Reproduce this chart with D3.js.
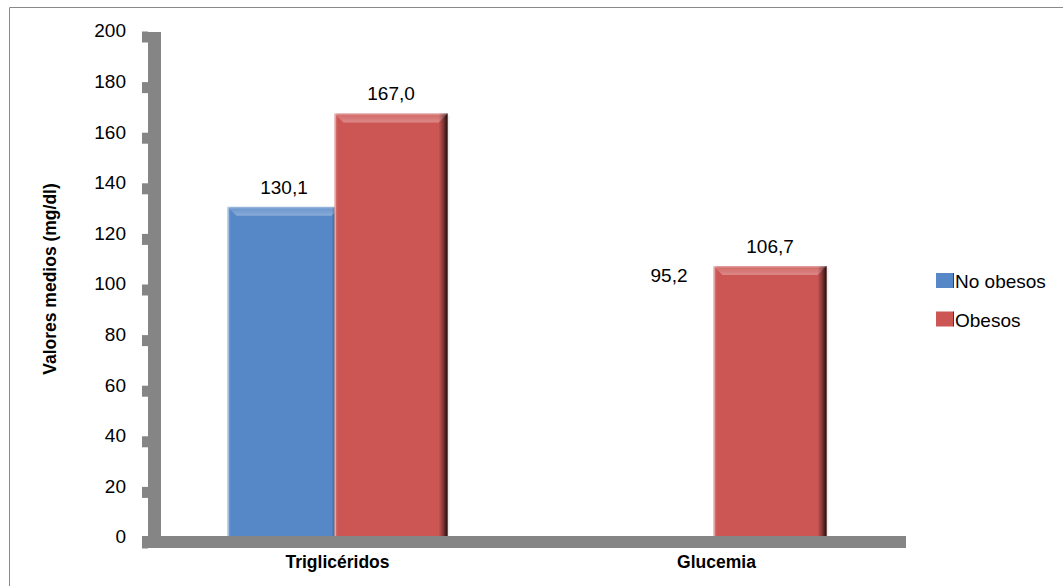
<!DOCTYPE html>
<html><head><meta charset="utf-8">
<script src="https://cdn.jsdelivr.net/npm/d3@7"></script>
<style>body{margin:0;background:#fff}svg{display:block}text{font-family:"Liberation Sans",Arial,sans-serif}</style>
</head><body><svg id="c" width="1063" height="586"></svg>
<script>
const categories = ["Triglicéridos", "Glucemia"];
const seriesNames = ["No obesos", "Obesos"];
const noObesos = [130.1, 95.2];
const obesos = [167.0, 106.7];
const yTicks = [0, 20, 40, 60, 80, 100, 120, 140, 160, 180, 200];
const hiddenBars = [["Glucemia", "No obesos"]];
const colors = ["#5687c7", "#cc5654"];

const svg = d3.select("#c");
const defs = svg.append("defs");
svg.append("path").attr("d", "M9.5,586V7.5H1063").attr("fill", "none").attr("stroke", "#8a8a8a");

const y = d3.scaleLinear().domain([0, 200]).range([536, 30]);
const x0 = d3.scaleBand().domain(categories).range([148, 906]).paddingInner(0.4195).paddingOuter(0.20975);
const x1 = d3.scaleBand().domain(seriesNames).range([0, x0.bandwidth() * 0.973]);
const barW = x1.bandwidth() * 1.056;
const color = d3.scaleOrdinal().domain(seriesNames).range(colors);

const gH = defs.append("linearGradient").attr("id", "gh").attr("x1", 0).attr("x2", 1).attr("y1", 0).attr("y2", 0);
[[0, "#fff", 0.25], [0.03, "#fff", 0], [0.92, "#000", 0], [0.96, "#000", 0.35], [1, "#000", 0.85]]
  .forEach(s => gH.append("stop").attr("offset", s[0]).attr("stop-color", s[1]).attr("stop-opacity", s[2]));
const gV = defs.append("linearGradient").attr("id", "gv").attr("x1", 0).attr("x2", 0).attr("y1", 0).attr("y2", 1);
[[0, "#fff", 0.45], [0.25, "#fff", 0.15], [1, "#fff", 0.3]]
  .forEach(s => gV.append("stop").attr("offset", s[0]).attr("stop-color", s[1]).attr("stop-opacity", s[2]));

const rows = [];
categories.forEach((c, i) => {
  rows.push({cat: c, s: "No obesos", v: noObesos[i]});
  rows.push({cat: c, s: "Obesos", v: obesos[i]});
});
const isHidden = d => hiddenBars.some(h => h[0] === d.cat && h[1] === d.s);

const bars = svg.append("g");
rows.forEach(d => {
  const bx = x0(d.cat) + x1(d.s), bw = barW, by = y(d.v), bh = y(0) - y(d.v);
  if (!isHidden(d)) {
    const g = bars.append("g");
    g.append("rect").attr("x", bx + 2).attr("y", by + 2).attr("width", bw).attr("height", bh)
      .attr("fill", "#000").attr("opacity", 0.07);
    g.append("rect").attr("x", bx).attr("y", by).attr("width", bw).attr("height", bh).attr("fill", color(d.s));
    g.append("rect").attr("x", bx).attr("y", by).attr("width", bw).attr("height", bh).attr("fill", "url(#gh)");
    g.append("path").attr("d", `M${bx},${by}L${bx + bw},${by}L${bx + bw - 9},${by + 9}L${bx + 9},${by + 9}Z`)
      .attr("fill", "url(#gv)");
    g.append("rect").attr("x", bx).attr("y", by).attr("width", 1.5).attr("height", bh).attr("fill", "#fff").attr("opacity", 0.35);
  }
  svg.append("text").attr("x", bx + bw / 2 + (isHidden(d) ? 6 : 0)).attr("y", by - 13)
    .attr("text-anchor", "middle").attr("font-size", 19).attr("fill", "#000")
    .text(d3.format(".1f")(d.v).replace(".", ","));
});

const axisColor = "#858585";
svg.append("rect").attr("x", 148).attr("y", y(200) + 2).attr("width", 13).attr("height", 548 - y(200) - 2).attr("fill", axisColor);
svg.append("rect").attr("x", 142).attr("y", 536).attr("width", 764).attr("height", 12).attr("fill", axisColor);
const yAxis = d3.axisLeft(y).tickValues(yTicks).tickSize(0).tickPadding(22).tickFormat(d3.format("d"));
const ya = svg.append("g").attr("transform", "translate(148,0)").call(yAxis);
ya.select(".domain").remove();
ya.selectAll("text").attr("font-size", 19).attr("fill", "#000").attr("font-family", "Liberation Sans, Arial, sans-serif").attr("dy", "0.36em");
ya.selectAll(".tick").append("rect").attr("x", -6).attr("y", 1).attr("width", 6).attr("height", 11).attr("fill", axisColor);

svg.append("g").selectAll("text").data(categories).join("text")
  .attr("x", d => x0(d) + x0.bandwidth() / 2).attr("y", 568)
  .attr("text-anchor", "middle").attr("font-size", 17.5).attr("font-weight", "bold").text(d => d);

svg.append("text").attr("transform", "translate(56,279) rotate(-90)").attr("text-anchor", "middle")
  .attr("font-size", 17.5).attr("font-weight", "bold").text("Valores medios (mg/dl)");

const lg = svg.append("g").attr("transform", "translate(936,273)");
seriesNames.forEach((s, i) => {
  const r = lg.append("g").attr("transform", `translate(0,${i * 38.5})`);
  r.append("rect").attr("width", 18).attr("height", 15).attr("fill", color(s));
  r.append("rect").attr("width", 18).attr("height", 15).attr("fill", "url(#gh)");
  r.append("text").attr("x", 19).attr("y", 15).attr("font-size", 19).text(s);
});
</script></body></html>
